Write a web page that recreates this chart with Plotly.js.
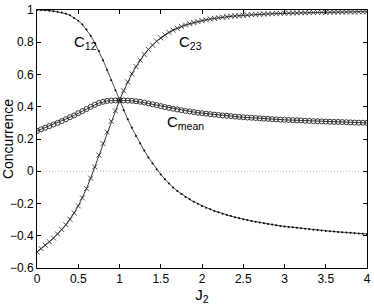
<!DOCTYPE html>
<html><head><meta charset="utf-8">
<script src="https://cdn.plot.ly/plotly-3.0.1.min.js"></script>
<style>html,body{margin:0;padding:0;background:#fff;}#plot{width:374px;height:305px;}</style>
</head><body><div id="plot"></div>
<script>
const J2 = [0.00,0.05,0.10,0.15,0.20,0.25,0.30,0.35,0.40,0.45,0.50,0.55,0.60,0.65,0.70,0.75,0.80,0.85,0.90,0.95,
1.00,1.05,1.10,1.15,1.20,1.25,1.30,1.35,1.40,1.45,1.50,1.55,1.60,1.65,1.70,1.75,1.80,1.85,1.90,1.95,
2.00,2.05,2.10,2.15,2.20,2.25,2.30,2.35,2.40,2.45,2.50,2.55,2.60,2.65,2.70,2.75,2.80,2.85,2.90,2.95,
3.00,3.05,3.10,3.15,3.20,3.25,3.30,3.35,3.40,3.45,3.50,3.55,3.60,3.65,3.70,3.75,3.80,3.85,3.90,3.95,4.00];

const C12 = [1.000,1.000,0.998,0.996,0.993,0.989,0.984,0.977,0.967,0.950,0.934,0.910,0.879,0.841,0.796,0.745,0.689,0.628,0.565,0.502,
0.440,0.378,0.322,0.269,0.219,0.172,0.128,0.086,0.048,0.013,-0.020,-0.049,-0.076,-0.100,-0.122,-0.141,-0.159,-0.174,-0.189,-0.202,
-0.215,-0.226,-0.236,-0.246,-0.255,-0.263,-0.271,-0.278,-0.285,-0.292,-0.298,-0.303,-0.308,-0.313,-0.318,-0.323,-0.327,-0.331,-0.335,-0.339,
-0.342,-0.345,-0.348,-0.351,-0.354,-0.357,-0.360,-0.363,-0.365,-0.367,-0.370,-0.372,-0.374,-0.376,-0.378,-0.380,-0.382,-0.384,-0.386,-0.387,-0.389];

const C23 = [-0.500,-0.480,-0.459,-0.437,-0.414,-0.389,-0.362,-0.332,-0.298,-0.259,-0.215,-0.165,-0.108,-0.043,0.027,0.100,0.172,0.243,0.310,0.375,
0.440,0.499,0.554,0.604,0.649,0.689,0.724,0.755,0.782,0.806,0.827,0.845,0.861,0.875,0.887,0.898,0.907,0.915,0.922,0.928,
0.934,0.939,0.944,0.948,0.952,0.955,0.958,0.961,0.963,0.965,0.967,0.969,0.971,0.972,0.974,0.975,0.976,0.977,0.978,0.979,
0.980,0.981,0.981,0.982,0.983,0.983,0.984,0.984,0.985,0.985,0.986,0.986,0.987,0.987,0.987,0.988,0.988,0.988,0.989,0.989,0.989];

const Cmean = [0.250,0.260,0.270,0.280,0.290,0.300,0.311,0.323,0.335,0.346,0.360,0.373,0.386,0.399,0.412,0.423,0.431,0.436,0.438,0.439,
0.440,0.439,0.438,0.437,0.434,0.431,0.426,0.421,0.415,0.410,0.404,0.398,0.393,0.388,0.383,0.379,0.374,0.371,0.367,0.363,
0.360,0.357,0.354,0.351,0.349,0.346,0.344,0.342,0.339,0.337,0.335,0.333,0.332,0.330,0.328,0.326,0.325,0.323,0.322,0.320,
0.319,0.318,0.317,0.316,0.315,0.313,0.312,0.311,0.310,0.309,0.308,0.307,0.306,0.306,0.305,0.304,0.303,0.302,0.301,0.301,0.300];

const seriesLabels = ['C<sub>12</sub>', 'C<sub>23</sub>', 'C<sub>mean</sub>'];
const xTitle = 'J<sub>2</sub>';
const yTitle = 'Concurrence';

const FONT = 'Liberation Sans, Arial, Helvetica, sans-serif';

const traces = [
  {x: J2, y: Cmean, mode: 'lines+markers', line: {color: '#000', width: 0.8},
   marker: {symbol: 'circle-open', size: 5, color: '#333', line: {width: 1, color: '#333'}}},
  {x: J2, y: C23, mode: 'lines+markers', line: {color: '#000', width: 0.8},
   marker: {symbol: 'x-thin-open', size: 5, color: '#222', line: {width: 0.8, color: '#222'}}},
  {x: J2, y: C12, mode: 'lines+markers', line: {color: '#000', width: 0.7},
   marker: {symbol: 'circle', size: 2, color: '#000'}}
];

const axisCommon = {
  showgrid: false, zeroline: false, showline: true, linecolor: '#000', linewidth: 1,
  mirror: 'ticks', ticks: 'inside', ticklen: 4, tickwidth: 1, tickcolor: '#000',
  tickfont: {family: FONT, size: 12, color: '#000'}
};

const layout = {
  width: 374, height: 305,
  margin: {l: 37, r: 7, t: 10, b: 37, pad: 0},
  paper_bgcolor: '#fff', plot_bgcolor: '#fff',
  showlegend: false,
  font: {family: FONT, color: '#000'},
  xaxis: Object.assign({}, axisCommon, {range: [0, 4], dtick: 0.5, tick0: 0,
    title: {text: xTitle, font: {family: FONT, size: 15, color: '#000'}, standoff: 0}}),
  yaxis: Object.assign({}, axisCommon, {range: [-0.6, 1], dtick: 0.2, tick0: -0.6,
    title: {text: yTitle, font: {family: FONT, size: 14, color: '#000'}, standoff: 2}}),
  shapes: [{type: 'line', xref: 'paper', x0: 0, x1: 1, yref: 'y', y0: 0, y1: 0,
    line: {color: '#bbb', width: 1, dash: '1px,2px'}, layer: 'below'}],
  annotations: [
    {text: seriesLabels[0], x: 0.42, y: 0.80, xref: 'x', yref: 'y', xanchor: 'left', yanchor: 'middle', showarrow: false, font: {family: FONT, size: 15, color: '#000'}},
    {text: seriesLabels[1], x: 1.70, y: 0.80, xref: 'x', yref: 'y', xanchor: 'left', yanchor: 'middle', showarrow: false, font: {family: FONT, size: 15, color: '#000'}},
    {text: seriesLabels[2], x: 1.55, y: 0.30, xref: 'x', yref: 'y', xanchor: 'left', yanchor: 'middle', showarrow: false, font: {family: FONT, size: 15, color: '#000'}}
  ]
};

Plotly.newPlot('plot', traces, layout, {displayModeBar: false, staticPlot: true});
</script></body></html>
